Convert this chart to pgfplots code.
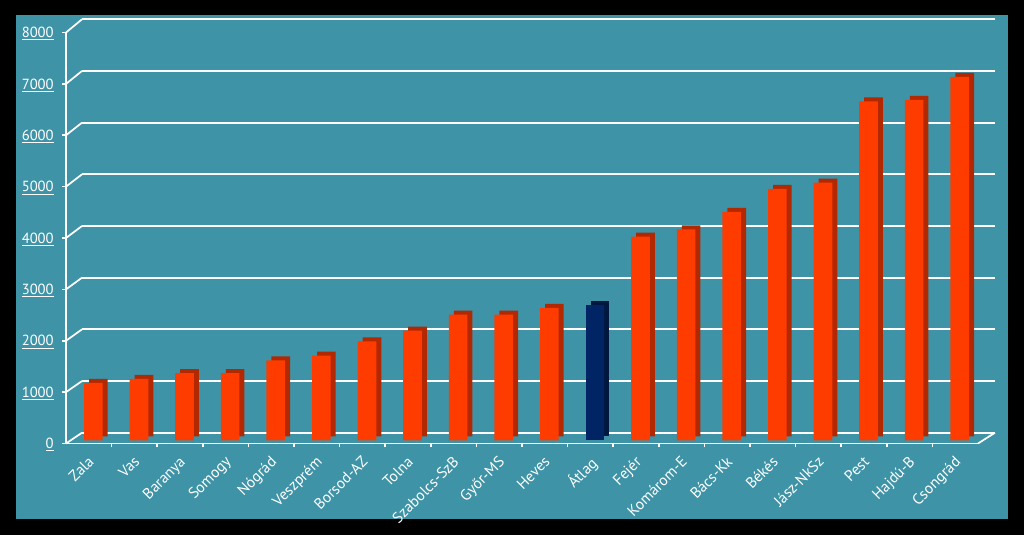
\documentclass[border=0pt]{standalone}
\usepackage{pgfplots}
\usepackage{pgfplotstable}
\pgfplotsset{compat=1.18}
\usepackage{fontspec}
\setmainfont{PT Sans}
\definecolor{bg}{RGB}{62,147,167}
\definecolor{barfront}{RGB}{255,60,0}
\definecolor{barside}{RGB}{178,40,0}
\definecolor{avgfront}{RGB}{0,36,100}
\definecolor{avgside}{RGB}{0,24,64}

\pgfplotstableread{
x y
0.5 1120
1.5 1200
2.5 1310
3.5 1310
4.5 1560
5.5 1650
6.5 1930
7.5 2140
8.5 2450
9.5 2450
10.5 2580
12.5 3970
13.5 4110
14.5 4450
15.5 4900
16.5 5020
17.5 6600
18.5 6630
19.5 7080
}\counties
\pgfplotstableread{
x y
11.5 2630
}\average

\begin{document}
\begin{tikzpicture}
\fill[black] (0pt,0pt) rectangle (768pt,401.25pt);
\fill[bg] (12pt,12pt) rectangle (756pt,390pt);
% back wall grid
\begin{axis}[at={(61.5pt,76.725pt)}, anchor=south west, scale only axis,
  width=684.75pt, height=310pt,
  xmin=0, xmax=20, ymin=0, ymax=8000,
  axis line style={draw=none},
  xtick=\empty, ytick={0,1000,...,8000}, yticklabels={},
  major tick length=0pt,
  ymajorgrids, major grid style={white, line width=1.3pt}]
\end{axis}
\foreach \k in {0,...,8}
  \draw[white, line width=1.3pt] (49.5pt,{68.625pt+\k*38.53pt}) -- (61.5pt,{76.725pt+\k*38.756pt});
\draw[white, line width=1.3pt] (733.5pt,68.625pt) -- (746.25pt,76.725pt);
% front axis
\begin{axis}[at={(49.5pt,68.625pt)}, anchor=south west, scale only axis,
  width=684pt, height=308.25pt,
  xmin=0, xmax=20, ymin=0, ymax=8000,
  axis x line*=bottom, axis y line*=left,
  axis line style={white, line width=1.3pt, -},
  tick align=outside, tick style={white, line width=1.3pt},
  major tick length=3pt,
  xtick={1,2,...,19}, xticklabels={},
  extra x ticks={0.5,1.5,...,19.5},
  extra x tick labels={Zala,Vas,Baranya,Somogy,Nógrád,Veszprém,Borsod-AZ,Tolna,Szabolcs-SzB,Győr-MS,Heves,Átlag,Fejér,Komárom-E,Bács-Kk,Békés,Jász-NkSz,Pest,Hajdú-B,Csongrád},
  extra x tick style={major tick length=0pt},
  xticklabel style={font=\fontsize{11.5}{13}\selectfont, text=white, inner sep=0pt, xshift=-1.2pt, yshift=-8.5pt, rotate=45, anchor=north east},
  ytick={0,1000,...,8000},
  yticklabels={\underline{0},\underline{1000},\underline{2000},\underline{3000},\underline{4000},\underline{5000},\underline{6000},\underline{7000},\underline{8000}},
  yticklabel style={font=\fontsize{11}{13}\selectfont, text=white, inner sep=0pt, anchor=base east, xshift=-6pt, yshift=-3.9pt},
  clip=false]
\addplot[ybar, bar width=14pt, bar shift=7.15pt, yshift=5.25pt, fill=barside, draw=none] table {\counties};
\addplot[ybar, bar width=14pt, bar shift=7.15pt, yshift=5.25pt, fill=avgside, draw=none] table {\average};
\addplot[ybar, bar width=14pt, bar shift=3.4pt, yshift=2.25pt, fill=barfront, draw=none] table {\counties};
\addplot[ybar, bar width=14pt, bar shift=3.4pt, yshift=2.25pt, fill=avgfront, draw=none] table {\average};
\end{axis}
\end{tikzpicture}
\end{document}
